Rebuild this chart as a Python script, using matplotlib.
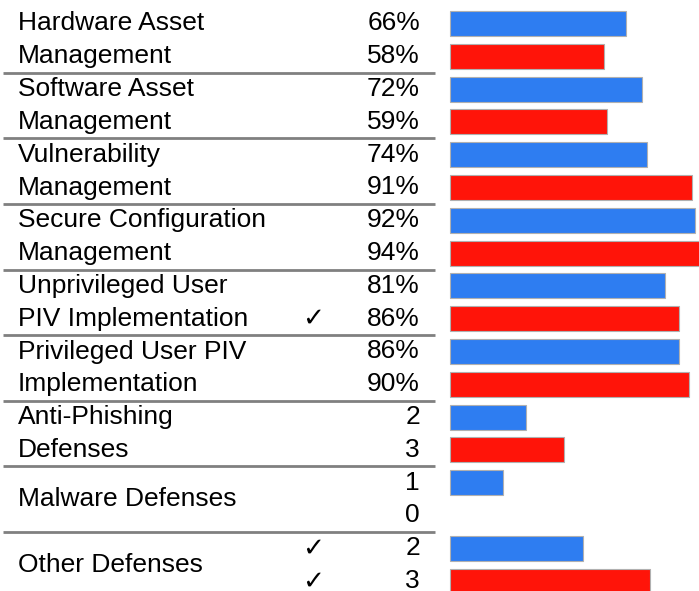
import numpy as np
import matplotlib.pyplot as plt

plt.rcParams['font.family'] = ['Liberation Sans', 'DejaVu Sans']

categories = ["Hardware Asset\nManagement", "Software Asset\nManagement",
              "Vulnerability\nManagement", "Secure Configuration\nManagement",
              "Unprivileged User\nPIV Implementation", "Privileged User PIV\nImplementation",
              "Anti-Phishing\nDefenses", "Malware Defenses", "Other Defenses"]
# percent metrics (first six groups)
pct_blue = [66, 72, 74, 92, 81, 86]
pct_red = [58, 59, 91, 94, 86, 90]
# count metrics (last three groups), bars drawn as share of total
cnt_blue = [2, 1, 2]
cnt_red = [3, 0, 3]
cnt_total = [7, 5, 4]
# check marks: (group, row in group)
checks = [(4, 1), (8, 0), (8, 1)]

blue = "#2E7DF1"
red = "#FF1409"
px = 2.66   # pixels per unit along x
row = 32.8  # pixels per row
y0 = 23.5   # pixel centre of first row

fig = plt.figure(figsize=(6.99, 5.91), dpi=100)
ax = fig.add_axes([0, 0, 1, 1])
ax.set_xlim(-450 / px, 249 / px)
ax.set_ylim((591 - y0) / row, -y0 / row)
ax.axis("off")

vals_b = list(pct_blue) + [b / t * 100 for b, t in zip(cnt_blue, cnt_total)]
vals_r = list(pct_red) + [r / t * 100 for r, t in zip(cnt_red, cnt_total)]
txt_b = [f"{v}%" for v in pct_blue] + [str(v) for v in cnt_blue]
txt_r = [f"{v}%" for v in pct_red] + [str(v) for v in cnt_red]

n = len(categories)
yb = np.arange(n) * 2
yr = yb + 1
ax.barh(yb, vals_b, height=0.76, color=blue, edgecolor="#b0b0b0", linewidth=0.8)
ax.barh(yr, [v if v > 0 else np.nan for v in vals_r], height=0.76, color=red,
        edgecolor="#b0b0b0", linewidth=0.8)

fs = 19
xl = (18 - 450) / px
for i, cat in enumerate(categories):
    parts = cat.split("\n")
    if len(parts) == 2:
        ax.text(xl, yb[i], parts[0], fontsize=fs, va="center", ha="left")
        ax.text(xl, yr[i], parts[1], fontsize=fs, va="center", ha="left")
    else:
        ax.text(xl, yb[i] + 0.5, cat, fontsize=fs, va="center", ha="left")
    ax.text(-30 / px, yb[i], txt_b[i], fontsize=fs, va="center", ha="right")
    ax.text(-30 / px, yr[i], txt_r[i], fontsize=fs, va="center", ha="right")
    if i < n - 1:
        ax.plot([-447 / px, -15 / px], [yr[i] + 0.5, yr[i] + 0.5], color="#808080", lw=2,
                solid_capstyle="butt")

for g, r in checks:
    ax.text(-137 / px, g * 2 + r, "\u2713", fontsize=fs, va="center", ha="center",
            family="DejaVu Sans")

fig.savefig("out.png", dpi=100)
